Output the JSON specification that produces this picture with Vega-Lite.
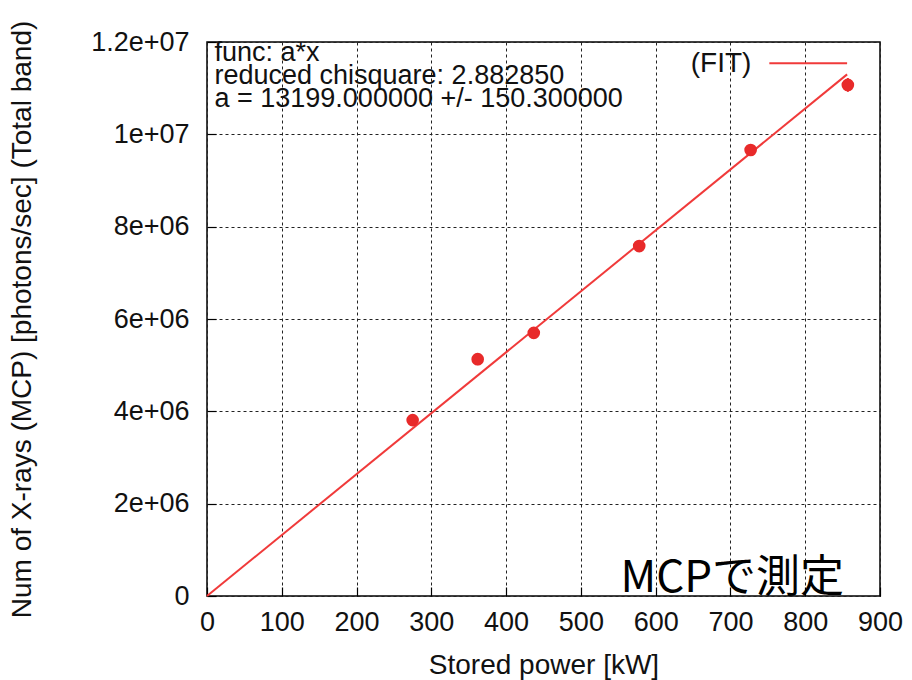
{
  "$schema": "https://vega.github.io/schema/vega-lite/v6.json",
  "width": 673,
  "height": 554,
  "autosize": {"type": "none"},
  "padding": {"left": 207, "top": 42, "right": 32, "bottom": 84},
  "background": "white",
  "config": {
    "view": {"stroke": "black", "strokeWidth": 1.5},
    "font": "Liberation Sans",
    "axis": {
      "labelFont": "Liberation Sans",
      "titleFont": "Liberation Sans",
      "labelColor": "#111",
      "titleColor": "#111",
      "labelFontSize": 27,
      "titleFontSize": 28,
      "titleFontWeight": "normal",
      "domain": false,
      "tickColor": "black",
      "tickWidth": 1.2,
      "tickSize": -9,
      "grid": true,
      "gridColor": "#222",
      "gridDash": [3, 3],
      "gridWidth": 1,
      "gridOpacity": 1
    }
  },
  "datasets": {
    "points": [
      {"power": 275, "count": 3810000, "low": 3700000, "high": 3920000},
      {"power": 362, "count": 5130000, "low": 5000000, "high": 5260000},
      {"power": 437, "count": 5700000, "low": 5580000, "high": 5820000},
      {"power": 578, "count": 7580000, "low": 7460000, "high": 7700000},
      {"power": 727, "count": 9660000, "low": 9540000, "high": 9780000},
      {"power": 857, "count": 11070000, "low": 10920000, "high": 11220000}
    ],
    "fit": [
      {"power": 0, "count": 0},
      {"power": 856, "count": 11298344}
    ]
  },
  "layer": [
    {
      "data": {"name": "fit"},
      "mark": {"type": "line", "color": "#f03a3a", "strokeWidth": 2},
      "encoding": {
        "x": {
          "field": "power", "type": "quantitative",
          "scale": {"domain": [0, 900], "nice": false},
          "axis": {
            "title": "Stored power [kW]",
            "values": [0, 100, 200, 300, 400, 500, 600, 700, 800, 900],
            "labelPadding": 22,
            "titlePadding": 16,
            "labelFlush": false
          }
        },
        "y": {
          "field": "count", "type": "quantitative",
          "scale": {"domain": [0, 12000000], "nice": false},
          "axis": {
            "title": "Num of X-rays (MCP) [photons/sec]  (Total band)",
            "values": [0, 2000000, 4000000, 6000000, 8000000, 10000000, 12000000],
            "labelExpr": "datum.value == 0 ? '0' : replace(format(datum.value, '~e'), 'e+', 'e+0')",
            "labelPadding": 27,
            "titlePadding": 54,
            "labelFlush": false
          }
        }
      }
    },
    {
      "data": {"name": "points"},
      "mark": {"type": "rule", "color": "#e82c2c", "strokeWidth": 2},
      "encoding": {
        "x": {"field": "power", "type": "quantitative"},
        "y": {"field": "low", "type": "quantitative"},
        "y2": {"field": "high"}
      }
    },
    {
      "data": {"name": "points"},
      "mark": {"type": "point", "shape": "circle", "filled": true, "color": "#e82a2a", "opacity": 1, "size": 160},
      "encoding": {
        "x": {"field": "power", "type": "quantitative"},
        "y": {"field": "count", "type": "quantitative"}
      }
    },
    {
      "data": {"values": [{}]},
      "mark": {"type": "text", "align": "left", "baseline": "alphabetic", "fontSize": 27, "lineHeight": 23, "color": "#111", "font": "Liberation Sans"},
      "encoding": {
        "x": {"datum": 10},
        "y": {"datum": 11580000},
        "text": {"value": ["func: a*x", "reduced chisquare: 2.882850", "a = 13199.000000 +/- 150.300000"]}
      }
    },
    {
      "data": {"values": [{"label": "(FIT)"}]},
      "mark": {"type": "text", "align": "right", "baseline": "middle", "fontSize": 28, "color": "#111", "font": "Liberation Sans"},
      "encoding": {
        "x": {"datum": 728},
        "y": {"datum": 11520000},
        "text": {"field": "label"}
      }
    },
    {
      "data": {"values": [{}]},
      "mark": {"type": "rule", "color": "#f03a3a", "strokeWidth": 2},
      "encoding": {
        "x": {"datum": 752},
        "x2": {"datum": 856},
        "y": {"datum": 11540000}
      }
    },
    {
      "data": {"values": [{"label": "MCPで測定"}]},
      "mark": {"type": "text", "align": "right", "baseline": "alphabetic", "fontSize": 44, "color": "black", "font": "Noto Sans CJK JP"},
      "encoding": {
        "x": {"datum": 852},
        "y": {"datum": 90000},
        "text": {"field": "label"}
      }
    }
  ]
}
